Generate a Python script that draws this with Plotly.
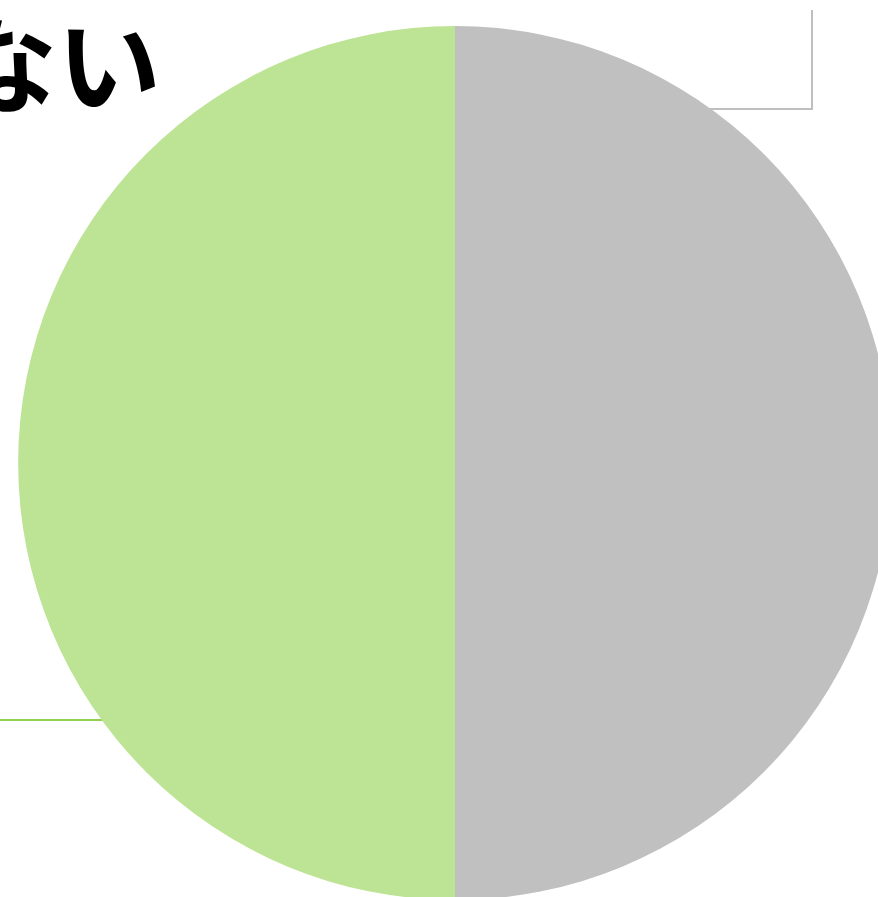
import plotly.graph_objects as go

labels = ["その他", "ない"]
values = [50, 50]
colors = ["#C0C0C0", "#BDE495"]

W, H = 900, 910
fig = go.Figure(go.Pie(
    labels=labels, values=values, sort=False, direction="clockwise", rotation=0,
    marker=dict(colors=colors, line=dict(width=0)),
    textinfo="none", hoverinfo="label+percent", showlegend=False,
    domain=dict(x=[18 / W, 892 / W], y=[(H - 900) / H, (H - 26) / H]),
))

fig.add_annotation(text="<b>ない</b>", xref="paper", yref="paper", x=163 / W, y=1 - 60 / H,
                   xanchor="right", yanchor="middle", showarrow=False,
                   font=dict(family="Noto Sans CJK JP", size=104, color="black"))

# leader lines
fig.add_shape(type="line", xref="paper", yref="paper", x0=812 / W, x1=812 / W,
              y0=1 - 10 / H, y1=1 - 109 / H, line=dict(color="#BFBFBF", width=2), layer="below")
fig.add_shape(type="line", xref="paper", yref="paper", x0=690 / W, x1=813 / W,
              y0=1 - 109 / H, y1=1 - 109 / H, line=dict(color="#BFBFBF", width=2), layer="below")
fig.add_shape(type="line", xref="paper", yref="paper", x0=0, x1=110 / W,
              y0=1 - 720 / H, y1=1 - 720 / H, line=dict(color="#92D050", width=2), layer="below")

fig.update_layout(width=W, height=H, margin=dict(l=0, r=0, t=0, b=0),
                  paper_bgcolor="white", plot_bgcolor="white")

fig.write_html("out.html", config={"displayModeBar": False},
               post_script="document.body.style.margin='0';document.body.style.overflow='hidden';document.documentElement.style.overflow='hidden';")
